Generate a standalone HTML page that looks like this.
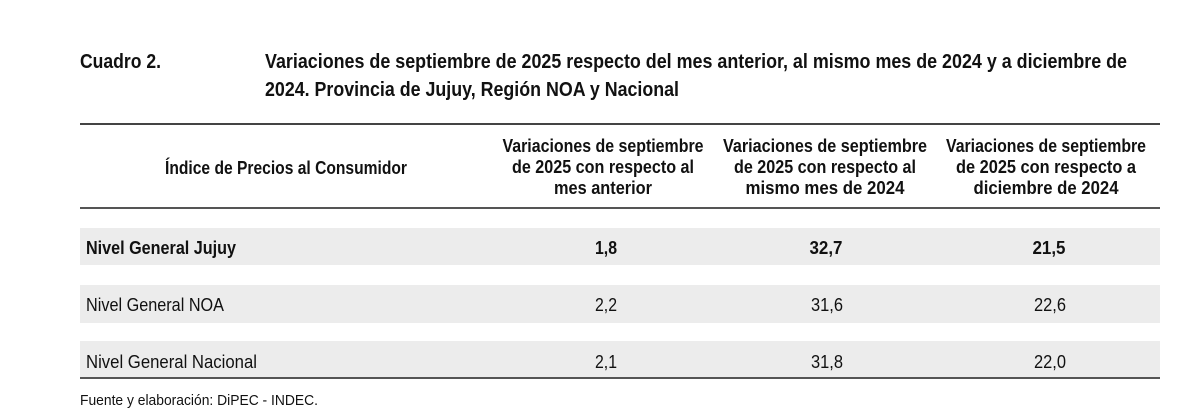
<!DOCTYPE html>
<html><head><meta charset="utf-8"><style>
html,body{margin:0;padding:0;background:#fff;width:1200px;height:413px;overflow:hidden}
text{font-family:"Liberation Sans Narrow","Liberation Sans",sans-serif;fill:#111}
.b{font-weight:bold}
</style></head><body>
<svg width="1200" height="413" viewBox="0 0 1200 413" xmlns="http://www.w3.org/2000/svg">
<text class="b" x="80" y="68" font-size="20" textLength="81" lengthAdjust="spacingAndGlyphs">Cuadro 2.</text>
<text class="b" x="265" y="68" font-size="20" textLength="862" lengthAdjust="spacingAndGlyphs">Variaciones de septiembre de 2025 respecto del mes anterior, al mismo mes de 2024 y a diciembre de</text>
<text class="b" x="265" y="96" font-size="20" textLength="414" lengthAdjust="spacingAndGlyphs">2024. Provincia de Jujuy, Región NOA y Nacional</text>
<rect x="80" y="123" width="1080" height="2" fill="#444"/>
<text class="b" x="165" y="174" font-size="18" textLength="242" lengthAdjust="spacingAndGlyphs">Índice de Precios al Consumidor</text>
<g font-size="18" text-anchor="middle">
<text class="b" x="603" y="152" textLength="201" lengthAdjust="spacingAndGlyphs">Variaciones de septiembre</text>
<text class="b" x="603" y="173" textLength="182" lengthAdjust="spacingAndGlyphs">de 2025 con respecto al</text>
<text class="b" x="603" y="194" textLength="98" lengthAdjust="spacingAndGlyphs">mes anterior</text>
<text class="b" x="825" y="152" textLength="204" lengthAdjust="spacingAndGlyphs">Variaciones de septiembre</text>
<text class="b" x="825" y="173" textLength="182" lengthAdjust="spacingAndGlyphs">de 2025 con respecto al</text>
<text class="b" x="825" y="194" textLength="159" lengthAdjust="spacingAndGlyphs">mismo mes de 2024</text>
<text class="b" x="1046" y="152" textLength="200" lengthAdjust="spacingAndGlyphs">Variaciones de septiembre</text>
<text class="b" x="1046" y="173" textLength="180" lengthAdjust="spacingAndGlyphs">de 2025 con respecto a</text>
<text class="b" x="1046" y="194" textLength="145" lengthAdjust="spacingAndGlyphs">diciembre de 2024</text>
</g>
<rect x="80" y="207" width="1080" height="2" fill="#555"/>
<rect x="80" y="228" width="1080" height="37" fill="#ececec"/>
<rect x="80" y="285" width="1080" height="38" fill="#ececec"/>
<rect x="80" y="341" width="1080" height="37" fill="#ececec"/>
<rect x="80" y="377" width="1080" height="2" fill="#555"/>
<text class="b" x="86" y="254" font-size="18" textLength="150" lengthAdjust="spacingAndGlyphs">Nivel General Jujuy</text>
<text x="86" y="311" font-size="18" textLength="138" lengthAdjust="spacingAndGlyphs">Nivel General NOA</text>
<text x="86" y="368" font-size="18" textLength="171" lengthAdjust="spacingAndGlyphs">Nivel General Nacional</text>
<g font-size="18" text-anchor="middle">
<text class="b" x="606" y="254" textLength="22" lengthAdjust="spacingAndGlyphs">1,8</text>
<text class="b" x="826" y="254" textLength="33" lengthAdjust="spacingAndGlyphs">32,7</text>
<text class="b" x="1049" y="254" textLength="33" lengthAdjust="spacingAndGlyphs">21,5</text>
<text x="606" y="311" textLength="22" lengthAdjust="spacingAndGlyphs">2,2</text>
<text x="827" y="311" textLength="32" lengthAdjust="spacingAndGlyphs">31,6</text>
<text x="1050" y="311" textLength="32" lengthAdjust="spacingAndGlyphs">22,6</text>
<text x="606" y="368" textLength="22" lengthAdjust="spacingAndGlyphs">2,1</text>
<text x="827" y="368" textLength="32" lengthAdjust="spacingAndGlyphs">31,8</text>
<text x="1050" y="368" textLength="32" lengthAdjust="spacingAndGlyphs">22,0</text>
</g>
<text x="80" y="405" font-size="15" textLength="238" lengthAdjust="spacingAndGlyphs">Fuente y elaboración: DiPEC - INDEC.</text>
</svg>
</body></html>
